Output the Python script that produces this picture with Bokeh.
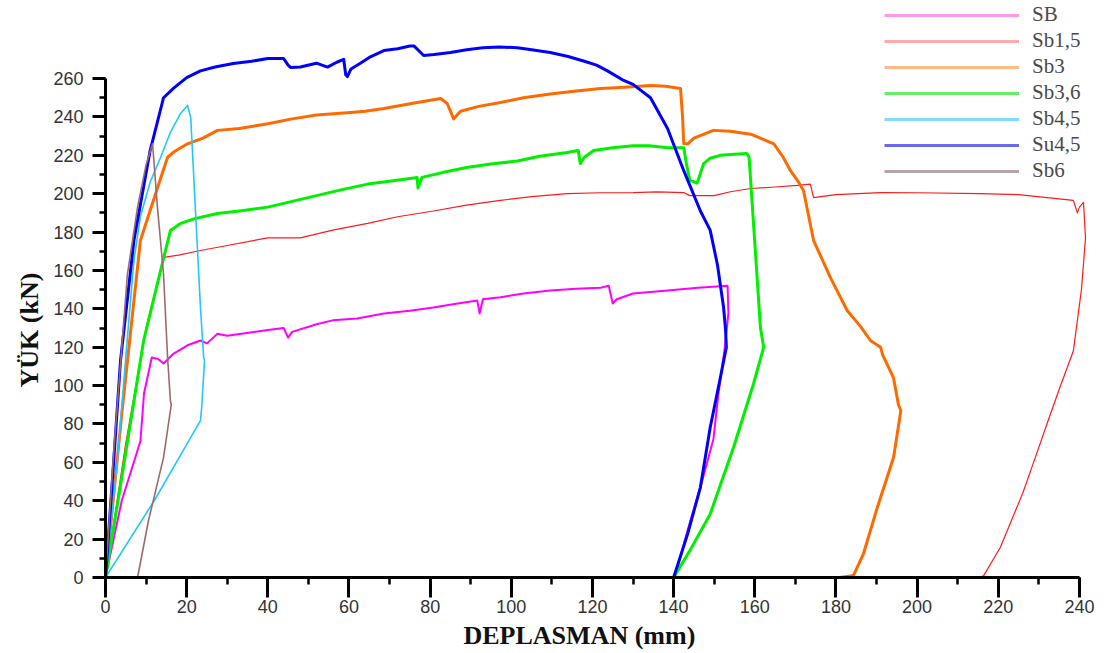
from bokeh.plotting import figure
from bokeh.models import Range1d, SingleIntervalTicker, Title, Legend, LegendItem
from bokeh.embed import file_html
from bokeh.resources import INLINE

# ---------------- data ----------------
names = ["SB", "Sb1,5", "Sb3", "Sb3,6", "Sb4,5", "Su4,5", "Sb6"]

sb_x = [0, 4, 8.6, 9.5, 11.4, 12.8, 13.5, 14.3, 16.8, 20.2, 23.4, 25, 27.6, 30, 35.7, 40, 43.9, 45, 46,
        52, 56, 62, 68.6, 75, 80.8, 86, 91.6, 92.2, 93, 97.3, 103, 109.6, 116, 122, 124, 125, 126, 130,
        138.5, 146, 153.3, 153.5, 152.5, 151, 149.8, 147, 143.5, 140.3]
sb_y = [0, 40, 71, 96, 114.6, 114, 113, 111.5, 116.7, 121, 123.5, 122, 127, 126, 127.7, 129, 130, 125, 128,
        132, 134, 135, 137.6, 139, 140.7, 142.5, 144.3, 137.6, 145, 146, 148, 149.6, 150.5, 151, 152, 142.8,
        145, 148, 149.6, 151, 152, 137.6, 118, 95, 72, 50, 25, 0]

sb15_x = [0, 5, 10, 14.3, 18, 23.4, 30, 40, 48, 56, 64.6, 72, 80.8, 89, 97.3, 105, 113.8, 122, 130, 136,
          142.5, 144, 150, 154, 159, 165, 170.5, 173.7, 174.5, 180, 191, 200, 215.6, 225, 232, 238.5, 239.5,
          240, 241, 241.5, 240.5, 238.5, 235, 232, 229.7, 226, 220.5, 216.4, 215.6]
sb15_y = [0, 70, 130, 166.8, 168, 170.4, 173, 177, 177, 181, 184.5, 188, 191, 194, 196.5, 198.5, 200, 200.5,
          200.6, 201, 200.6, 199, 199, 201, 202.7, 203.5, 204.3, 205, 198, 199.5, 200.6, 200.5, 200, 199.5,
          198, 196.5, 190, 193, 195.5, 177, 150, 118, 98, 80, 66, 43.8, 15.6, 1, 0]

sb3_x = [0, 4, 8.6, 12.8, 15.3, 17, 20.2, 24, 27.6, 33, 40, 46, 52, 60.4, 64, 68.6, 76.8, 82.6, 84.2, 85.8,
         87.5, 92, 97.3, 103, 109.6, 116, 122, 128, 134.3, 138, 141.7, 142.2, 142.5, 143.5, 145, 149.8, 154,
         159, 164.7, 167, 168.8, 170.5, 172, 174.5, 178.7, 182.8, 186, 188.5, 191, 191.5, 194.2, 195.4, 196,
         194.2, 190.2, 186.8, 184.3, 181]
sb3_y = [0, 85, 175.6, 203, 219, 222, 226, 229, 233, 234, 236.5, 239, 241, 242.3, 243, 244.4, 247.5, 249.6,
         247, 239, 243, 245.5, 247.5, 250, 252, 253.5, 254.8, 255.5, 256.4, 256, 254.8, 240, 226, 226, 229,
         233, 232.5, 231, 226, 219, 212, 207, 201.7, 175.6, 156, 139, 131, 123.5, 120, 116, 104, 90, 87, 62.5,
         36.5, 12.5, 1, 0]

sb36_x = [0, 4, 9.4, 13, 16, 18.5, 22, 27.6, 33, 40, 46, 52, 58, 64.6, 70, 76.8, 77, 78, 83, 89, 95, 101.5,
          107, 113.8, 116.5, 117, 118, 120.3, 125, 130, 134, 138.5, 142.5, 143.2, 144, 145.8, 147.4, 149,
          151.5, 155, 158, 158.6, 161.4, 162.2, 159.7, 154.8, 149, 144, 140]
sb36_y = [0, 52, 123.5, 155, 180.8, 184.5, 187, 189.7, 191, 193, 196, 199, 202, 205, 206.5, 208.4, 203, 208.5,
          211, 213.7, 215.5, 217, 219.5, 221.5, 222.5, 215.7, 219, 222.5, 224, 225, 225, 224, 224, 215, 207,
          205.5, 215.7, 218.5, 220, 220.5, 221, 219, 130, 120, 101, 68, 33, 14, 0]

sb45_x = [0, 3, 5, 7, 8.6, 11, 13.6, 16, 18.5, 20.2, 21, 22.2, 23.4, 24.2, 24.4, 23.7, 23.4, 12, 0]
sb45_y = [0, 62, 115, 165, 188, 206, 219, 232, 241.8, 246, 239.7, 190, 140.7, 114.6, 113, 88.6, 81.8, 40, 0]

su45_x = [0, 2, 3.7, 7, 11, 14.3, 16.8, 20, 23.4, 27, 31.5, 36, 40, 43.9, 45, 45.6, 48, 52, 54.7, 57, 58.7,
          59.2, 59.6, 60.5, 62.8, 65, 68.6, 72, 75, 76, 78.4, 81, 85, 89, 93, 97, 101.5, 105, 109.6, 114, 118,
          121, 123.7, 127.7, 130, 134.3, 138.5, 142.5, 146.6, 149, 150.8, 152.3, 152.8, 153, 151.5, 149,
          146.6, 143.5, 140]
su45_y = [0, 60, 113, 175.6, 222.5, 250, 255, 260.5, 264, 266, 267.8, 269, 270.4, 270.4, 267, 265.8, 266,
          268, 266, 268.5, 270, 262, 261, 265, 268, 271, 274.6, 275.5, 277, 277, 272, 272.5, 273.6, 275, 276,
          276.5, 276, 275, 273.6, 271.5, 269, 267, 264, 259, 257, 250, 234, 212, 191, 181, 163, 141, 129, 120,
          104, 78, 47, 23, 0]

sb6_x = [0, 2, 5.4, 7.9, 10, 11.6, 12.8, 14.3, 15.3, 16, 16.2, 14.3, 10.6, 7.9]
sb6_y = [0, 65, 158, 193, 215, 226, 193, 158, 114.6, 92, 90, 62.5, 29.7, 0]

x_ticks_interval = 20
y_ticks_interval = 20

# ---------------- styles ----------------
series = [
    (sb_x, sb_y, "#ff00ff", 2.0, "#ff99ee"),
    (sb15_x, sb15_y, "#ff1a1a", 1.2, "#ffaaaa"),
    (sb3_x, sb3_y, "#ff6a00", 3.0, "#ffbb88"),
    (sb36_x, sb36_y, "#00f000", 3.0, "#66ee66"),
    (sb45_x, sb45_y, "#22c8f8", 1.6, "#80dcff"),
    (su45_x, su45_y, "#0000ff", 3.0, "#6a6aee"),
    (sb6_x, sb6_y, "#9b6b6b", 1.6, "#b8a4a4"),
]

PX_X = 4.058
PX_Y = 1.919
FRAME_W = 1000
FRAME_H = 577

p = figure(width=1105, height=653, output_backend="svg", toolbar_location=None,
           x_range=Range1d(0, FRAME_W / PX_X), y_range=Range1d(0, FRAME_H / PX_Y),
           min_border_left=105, min_border_bottom=76, min_border_top=0, min_border_right=0)
p.outline_line_color = None
p.xgrid.visible = False
p.ygrid.visible = False
p.background_fill_color = "white"
p.border_fill_color = "white"

for (xs, ys, col, lw, lcol), nm in zip(series, names):
    p.line(xs, ys, line_color=col, line_width=lw, line_join="round")

# legend swatches: lighter copies of each colour (drawn off-frame, only shown in the legend)
legend_items = []
for (xs, ys, col, lw, lcol), nm in zip(series, names):
    r = p.line(x=[-50, -40], y=[-50, -50], line_color=lcol, line_width=3)
    legend_items.append(LegendItem(label=nm, renderers=[r]))

legend = Legend(items=legend_items, location=(779, 577 - 183),
                glyph_width=135, glyph_height=20, label_height=20, spacing=1,
                label_standoff=13, padding=1, margin=0,
                label_text_font="Liberation Serif", label_text_font_size="21px",
                label_text_color="#4a4a4a", border_line_color=None,
                background_fill_alpha=0)
p.add_layout(legend, "center")

for ax, interval, bnds in [(p.xaxis[0], x_ticks_interval, (0, 240)), (p.yaxis[0], y_ticks_interval, (0, 260))]:
    ax.ticker = SingleIntervalTicker(interval=interval, num_minor_ticks=2)
    ax.bounds = bnds
    ax.axis_line_width = 3
    ax.axis_line_color = "black"
    ax.major_tick_line_width = 3
    ax.minor_tick_line_width = 2.5
    ax.major_tick_in = 0
    ax.minor_tick_in = 0
    ax.major_label_text_font = "Liberation Sans"
    ax.major_label_text_font_size = "18px"
    ax.major_label_text_color = "#333333"

p.xaxis.major_tick_out = 20
p.xaxis.minor_tick_out = 7
p.xaxis.major_label_standoff = 2
p.yaxis.major_tick_out = 13
p.yaxis.minor_tick_out = 6
p.yaxis.major_label_standoff = 9

ytitle = Title(text="YÜK (kN)", align="left", offset=190, standoff=14,
               text_font="Liberation Serif", text_font_style="bold", text_font_size="26px",
               text_color="#111111")
xtitle = Title(text="DEPLASMAN (mm)", align="left", offset=358, standoff=6,
               text_font="Liberation Serif", text_font_style="bold", text_font_size="26px",
               text_color="#111111")
p.add_layout(ytitle, "left")
p.add_layout(xtitle, "below")

open("out.html", "w").write(file_html(p, INLINE))
